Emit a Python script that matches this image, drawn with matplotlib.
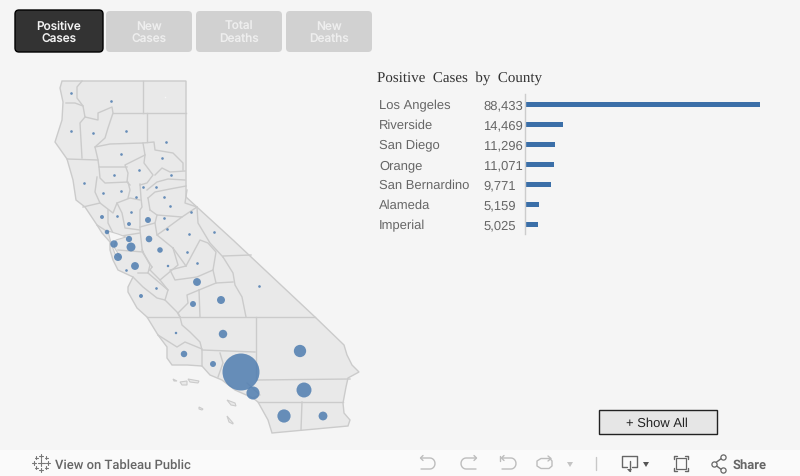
import matplotlib
matplotlib.use("Agg")
import matplotlib.pyplot as plt
import numpy as np
from matplotlib.patches import FancyBboxPatch, Polygon, Rectangle
from matplotlib.transforms import blended_transform_factory

# bar chart data
counties = ["Los Angeles", "Riverside", "San Diego", "Orange", "San Bernardino", "Alameda", "Imperial"]
cases = [88433, 14469, 11296, 11071, 9771, 5159, 5025]
case_labels = ["88,433", "14,469", "11,296", "11,071", "9,771", "5,159", "5,025"]

# map circles, in picture pixels, cases estimated from the circle size
bubble_x = [241, 304, 284, 253, 300, 323, 131, 223, 221, 197, 193, 213, 184, 118, 114, 135,
            129, 149, 160, 141, 168, 176, 107, 102, 148, 129]
bubble_y = [372, 390, 416, 393, 351, 416, 247, 334, 300, 282, 304, 364, 354, 257, 244, 266,
            239, 239, 250, 296, 266, 333, 232, 217, 220, 224]
bubble_cases = [88433, 14469, 11296, 11071, 9771, 5025, 5159, 4600, 4100, 4000, 2300, 2300,
                2700, 4100, 3600, 4000, 2500, 2800, 2000, 1000, 400, 400, 1300, 1000, 2300, 1000]

# counties with only a dot
dot_x = [71, 111, 71, 93, 126, 166, 121, 162, 139, 114, 171, 84, 143, 156, 103, 121, 136, 164,
         126, 156, 187, 197, 189, 167, 164, 170, 191, 214, 131, 117, 259]
dot_y = [93, 101, 131, 133, 131, 142, 154, 158, 170, 175, 175, 183, 187, 187, 193, 191, 197, 197,
         270, 288, 252, 263, 234, 229, 218, 206, 212, 232, 212, 216, 286]
dot_cases = 450

# state outline and county borders in pixels
state_outline = [(62, 81), (186, 81), (186, 197), (233, 240), (315, 317), (344, 345), (347, 355),
                 (352, 365), (359, 372), (348, 378), (346, 387), (343, 403), (344, 413), (350, 420),
                 (348, 426), (272, 433), (268, 420), (258, 402), (253, 398), (235, 390), (222, 380),
                 (210, 375), (202, 366), (187, 365), (172, 365), (167, 358), (167, 347), (158, 335),
                 (147, 317), (137, 308), (128, 292), (128, 287), (133, 277), (118, 270), (113, 260),
                 (110, 250), (110, 242), (102, 233), (97, 225), (85, 207), (76, 200), (73, 180),
                 (67, 159), (55, 142), (62, 120), (63, 102), (60, 88)]
bay = [(108, 231), (118, 234), (126, 237), (116, 240), (114, 247), (121, 258), (115, 254), (111, 243)]
islands = [[(173, 379), (177, 381), (174, 381)],
           [(180, 382), (187, 381), (187, 385), (182, 385)],
           [(188, 379), (199, 381), (198, 383), (190, 382)],
           [(227, 400), (235, 403), (236, 406), (231, 405)],
           [(199, 407), (203, 409), (202, 410), (199, 409)],
           [(227, 416), (233, 423), (233, 424), (229, 422)]]
borders = [
    [(82, 81), (77, 87), (77, 98), (83, 106), (85, 117), (98, 120), (98, 113), (112, 107), (113, 113),
     (108, 128), (105, 138), (95, 147), (98, 160), (99, 167), (127, 167)],
    [(66, 103), (75, 103), (83, 106)],
    [(143, 81), (143, 113)],
    [(113, 113), (186, 113)],
    [(85, 117), (80, 123), (82, 158)],
    [(67, 159), (98, 160)],
    [(95, 147), (110, 144), (143, 143), (154, 142), (155, 150), (173, 153), (183, 163), (183, 170)],
    [(147, 113), (147, 142)],
    [(143, 143), (145, 155), (125, 165), (128, 173), (127, 182), (130, 185)],
    [(145, 155), (144, 163), (153, 175), (147, 183), (140, 185)],
    [(155, 175), (162, 168), (170, 172), (185, 171)],
    [(147, 190), (157, 182), (168, 179), (185, 180)],
    [(148, 198), (155, 192), (170, 189), (186, 186)],
    [(99, 167), (100, 178), (105, 183), (128, 182), (130, 190), (128, 198)],
    [(97, 177), (95, 192), (100, 203)],
    [(83, 207), (100, 203), (113, 213), (117, 203), (130, 198), (140, 200)],
    [(140, 184), (141, 198), (142, 207), (140, 210), (140, 230), (142, 248), (143, 253), (152, 267)],
    [(108, 210), (108, 223), (113, 233)],
    [(97, 225), (108, 232)],
    [(117, 203), (122, 213), (125, 228), (140, 230)],
    [(115, 237), (140, 233)],
    [(118, 250), (143, 252)],
    [(140, 227), (155, 223), (157, 235), (173, 248)],
    [(155, 223), (157, 215), (182, 217), (167, 228), (157, 235)],
    [(150, 210), (157, 215)],
    [(148, 198), (150, 210)],
    [(182, 217), (197, 207), (185, 203), (187, 190)],
    [(197, 207), (198, 223), (210, 243), (223, 257)],
    [(223, 256), (251, 255)],
    [(223, 257), (233, 273), (235, 285), (242, 297), (246, 317)],
    [(147, 317), (315, 317)],
    [(150, 270), (160, 280), (178, 265), (173, 248)],
    [(152, 267), (150, 270)],
    [(173, 248), (186, 266), (200, 240), (208, 243), (216, 252), (213, 270), (197, 277), (175, 280),
     (170, 270), (186, 266)],
    [(199, 290), (200, 317)],
    [(199, 290), (216, 283), (233, 282)],
    [(216, 283), (213, 270)],
    [(199, 290), (187, 295), (188, 303), (178, 313), (180, 317)],
    [(133, 277), (143, 287), (157, 298), (165, 300), (177, 312), (180, 317)],
    [(148, 273), (168, 290), (165, 300)],
    [(160, 280), (168, 290)],
    [(138, 273), (148, 273), (150, 265), (142, 250)],
    [(158, 335), (177, 347), (185, 342), (202, 349), (202, 366)],
    [(180, 317), (182, 325), (190, 332), (200, 342), (202, 350), (255, 352)],
    [(256, 317), (256, 380)],
    [(220, 353), (223, 363), (218, 377)],
    [(257, 380), (350, 379)],
    [(247, 383), (260, 395), (253, 398)],
    [(258, 402), (343, 402)],
    [(302, 402), (301, 430)],
]

LINE_COLOR = "#cbcbcb"
BUBBLE_COLOR = "#4f7db0"
GRAY = "#666666"
BAR_COLOR = "#3b6fa8"

plt.rcParams["font.family"] = ["Liberation Sans", "DejaVu Sans"]
plt.rcParams["text.hinting"] = "none"
plt.rcParams["text.hinting_factor"] = 1

fig = plt.figure(figsize=(8, 4.77), dpi=100, facecolor="#f5f5f5")
page = fig.add_axes([0, 0, 1, 1])
page.set_xlim(0, 800)
page.set_ylim(476, -1)
page.axis("off")


def diameter_to_s(diameter):
    return (diameter * 0.72) ** 2


def draw_button(x, y, w, h, face, edge, lines, color):
    lw = 1 if edge != face else 0
    page.add_patch(FancyBboxPatch((x + 3, y + 3), w - 6, h - 6, boxstyle="round,pad=3,rounding_size=4",
                                  fc=face, ec=edge, lw=lw, zorder=3))
    cx = x + w / 2
    page.text(cx, 28.5, lines[0], color=color, fontsize=8.5, family="Inter", weight="medium",
              ha="center", va="baseline", zorder=4)
    page.text(cx, 41.5, lines[1], color=color, fontsize=8.5, family="Inter", weight="medium",
              ha="center", va="baseline", zorder=4)


def icon_line(points, color="#bdbdbd", lw=1):
    xs, ys = zip(*points)
    page.plot(xs, ys, color=color, lw=lw, solid_capstyle="round", zorder=5)


# buttons on top
draw_button(15, 10, 88, 42, "#333333", "#000000", ["Positive", "Cases"], "#f2f2f2")
draw_button(106, 11, 86, 41, "#d1d1d1", "#d1d1d1", ["New", "Cases"], "#eeeeee")
draw_button(196, 11, 86, 41, "#d1d1d1", "#d1d1d1", ["Total", "Deaths"], "#eeeeee")
draw_button(286, 11, 86, 41, "#d1d1d1", "#d1d1d1", ["New", "Deaths"], "#eeeeee")

# map
page.add_patch(Polygon(state_outline, closed=True, fc="#e9e9e9", ec=LINE_COLOR, lw=1, zorder=1))
page.add_patch(Polygon(bay, closed=True, fc="#f5f5f5", ec=LINE_COLOR, lw=0.8, zorder=1.2))
for island in islands:
    page.add_patch(Polygon(island, closed=True, fc="#e9e9e9", ec=LINE_COLOR, lw=0.8, zorder=1))
for border in borders:
    xs, ys = zip(*border)
    page.plot(xs, ys, color=LINE_COLOR, lw=1, solid_joinstyle="round", zorder=1.1)

bubble_d = 0.1244 * np.sqrt(np.array(bubble_cases))
page.scatter(bubble_x, bubble_y, s=diameter_to_s(bubble_d), color=BUBBLE_COLOR, alpha=0.85, lw=0, zorder=2)
page.scatter(dot_x, dot_y, s=diameter_to_s(0.1244 * np.sqrt(dot_cases)), color=BUBBLE_COLOR, alpha=0.85,
             lw=0, zorder=2)
# the pale speck in the north east corner
page.scatter([165], [97], s=diameter_to_s(1.5), color="#f7f7f7", lw=0, zorder=2)

# bar chart, 20 px per row
bars = fig.add_axes([525 / 800, 1 - 234.5 / 477, 235 / 800, 140 / 477])
bars.set_facecolor("none")
bars.barh(range(len(cases)), cases, height=0.24, color=BAR_COLOR)
bars.set_xlim(0, max(cases))
bars.set_ylim(len(cases) - 0.55, -0.55)
bars.set_xticks([])
bars.set_yticks([])
for side in ["top", "right", "bottom"]:
    bars.spines[side].set_visible(False)
bars.spines["left"].set_color("#cccccc")
bars.spines["left"].set_linewidth(1)

# row labels sit on a shared baseline, a bit under the bar centre
row_trans = blended_transform_factory(page.transData, bars.transData)
for i, (name, label) in enumerate(zip(counties, case_labels)):
    page.text(379, i + 0.17, name, transform=row_trans, color=GRAY, fontsize=9.3, ha="left", va="baseline")
    page.text(483, i + 0.17, label, transform=row_trans, color=GRAY, fontsize=9.3, ha="left", va="baseline")

page.text(377, 80.5, "Positive  Cases  by  County", color="#333333", fontsize=10.9, family="Liberation Serif",
          ha="left", va="baseline")

# show all button
page.add_patch(Rectangle((598.5, 410.5), 118, 24, fc="#e6e6e6", ec="#222222", lw=1, zorder=3))
page.text(657, 426, "+ Show All", color="#222222", fontsize=9.4, ha="center", va="baseline", zorder=4)

# toolbar
page.add_patch(Rectangle((0, 450), 800, 27, fc="#fafafa", ec="none", zorder=3))
page.text(55, 467.5, "View on Tableau Public", color=GRAY, fontsize=9.05, family="Roboto", weight="medium",
          ha="left", va="baseline", zorder=5)
page.text(733, 467.5, "Share", color=GRAY, fontsize=9.5, family="Roboto", weight="bold",
          ha="left", va="baseline", zorder=5)

# tableau logo
for cx, cy, r in [(41, 463, 3.5), (41, 456, 2), (41, 470, 2), (34, 463, 2), (48, 463, 2),
                  (36, 458, 1.5), (46, 458, 1.5), (36, 468, 1.5), (46, 468, 1.5)]:
    icon_line([(cx - r, cy), (cx + r, cy)], color="#777777", lw=0.8)
    icon_line([(cx, cy - r), (cx, cy + r)], color="#777777", lw=0.8)

# undo / redo / revert / refresh
t = np.linspace(-np.pi / 2, np.pi / 2, 12)
undo_arc = [(430 + 5 * np.cos(a), 463.5 + 5.5 * np.sin(a)) for a in t]
icon_line([(421, 458), (430, 458)] + undo_arc[1:] + [(421, 469)])
icon_line([(423, 455.5), (420.5, 458), (423, 460.5)])
redo_arc = [(466 - 5 * np.cos(a), 463.5 + 5.5 * np.sin(a)) for a in t]
icon_line([(476, 458), (466, 458)] + redo_arc[1:] + [(476, 469)])
icon_line([(474, 455.5), (476.5, 458), (474, 460.5)])
revert_arc = [(511 + 5 * np.cos(a), 463.5 + 5.5 * np.sin(a)) for a in t]
icon_line([(502, 458), (511, 458)] + revert_arc[1:] + [(502, 469)])
icon_line([(500, 456), (500, 461)])
icon_line([(504, 455.5), (501.5, 458), (504, 460.5)])
icon_line([(550, 458.5), (541, 458.5), (537, 461), (537, 466), (541, 468.5), (549, 468.5), (552, 466),
           (552, 461), (550, 458.5)])
icon_line([(548, 456), (551, 458.5), (548, 461)])
page.add_patch(Polygon([(567, 462), (573, 462), (570, 467)], fc="#c4c4c4", ec="none", zorder=5))
icon_line([(595.5, 457), (595.5, 470)], color="#c8c8c8")

# download, fullscreen, share
icon_line([(627, 467), (622, 467), (622, 456), (637, 456), (637, 467), (632, 467)], color="#666666")
icon_line([(629.5, 461), (629.5, 471)], color="#666666")
page.add_patch(Polygon([(627, 469), (632, 469), (629.5, 472)], fc="#666666", ec="none", zorder=5))
page.add_patch(Polygon([(643, 462), (649, 462), (646, 467)], fc="#555555", ec="none", zorder=5))
page.add_patch(Rectangle((676, 458), 10, 11, fc="none", ec="#666666", lw=0.9, zorder=5))
for sx, sy in [(674, 456), (688, 456), (674, 471), (688, 471)]:
    dx = 3 if sx < 680 else -3
    dy = 3 if sy < 460 else -3
    icon_line([(sx + dx, sy), (sx, sy), (sx, sy + dy)], color="#666666")
icon_line([(714, 464), (722, 458)], color="#666666")
icon_line([(714, 464), (722, 470)], color="#666666")
page.scatter([714, 723, 723], [464, 457.5, 470], s=14, fc="#fafafa", ec="#666666", lw=0.9, zorder=6)

fig.savefig("out.png", dpi=100, facecolor=fig.get_facecolor())
